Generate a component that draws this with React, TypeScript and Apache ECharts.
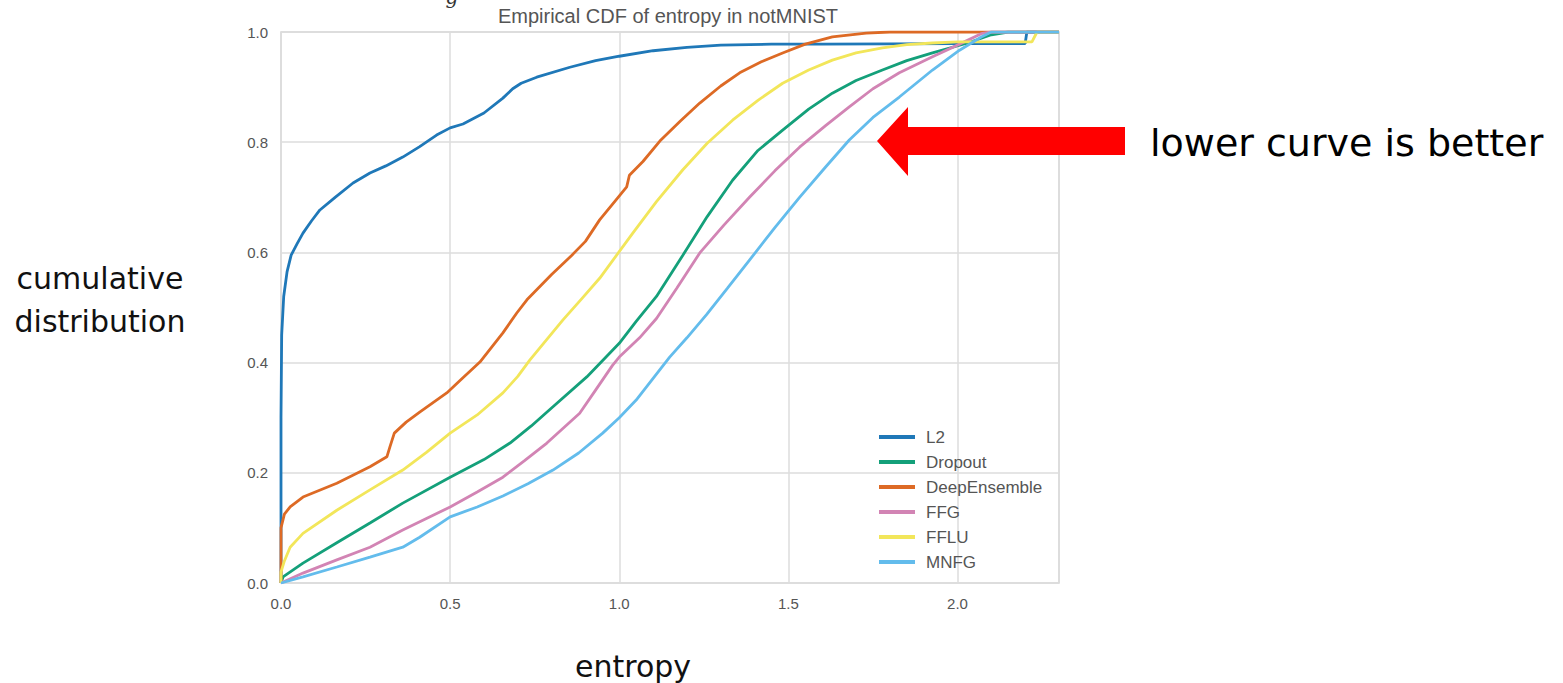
import React, { useEffect, useRef } from "react";
import * as echarts from "echarts";

const seriesNames = ["L2", "Dropout", "DeepEnsemble", "FFG", "FFLU", "MNFG"];
const seriesColors = ["#1f78b8", "#14a07a", "#dd6a25", "#d284b4", "#f2e65a", "#63bcec"];

const L2 = [[0,0],[0,0.30],[0.002,0.45],[0.008,0.52],[0.018,0.565],[0.03,0.595],[0.047,0.615],[0.065,0.635],[0.09,0.657],[0.115,0.677],[0.16,0.700],[0.213,0.726],[0.263,0.744],[0.31,0.757],[0.36,0.773],[0.41,0.792],[0.46,0.813],[0.5,0.826],[0.538,0.833],[0.6,0.853],[0.656,0.880],[0.685,0.897],[0.71,0.907],[0.756,0.918],[0.854,0.936],[0.93,0.948],[1.0,0.956],[1.1,0.966],[1.2,0.972],[1.3,0.976],[1.45,0.978],[1.6,0.978],[2.0,0.979],[2.2,0.979],[2.205,1.0],[2.3,1.0]];
const Dropout = [[0,0],[0.006,0.011],[0.065,0.036],[0.165,0.073],[0.263,0.109],[0.36,0.145],[0.5,0.192],[0.6,0.224],[0.677,0.254],[0.74,0.285],[0.804,0.32],[0.904,0.374],[1.0,0.435],[1.05,0.475],[1.11,0.52],[1.188,0.595],[1.26,0.665],[1.335,0.731],[1.41,0.785],[1.483,0.822],[1.56,0.860],[1.63,0.889],[1.70,0.912],[1.778,0.931],[1.85,0.948],[1.926,0.962],[2.03,0.98],[2.1,0.995],[2.15,1.0],[2.3,1.0]];
const DeepEnsemble = [[0,0],[0,0.10],[0.01,0.125],[0.027,0.138],[0.065,0.156],[0.165,0.181],[0.263,0.211],[0.313,0.229],[0.322,0.247],[0.335,0.272],[0.37,0.292],[0.41,0.31],[0.49,0.345],[0.53,0.368],[0.588,0.401],[0.656,0.454],[0.697,0.49],[0.727,0.514],[0.8,0.56],[0.86,0.595],[0.9,0.62],[0.942,0.659],[0.99,0.695],[1.022,0.719],[1.03,0.74],[1.07,0.765],[1.12,0.802],[1.18,0.838],[1.238,0.871],[1.30,0.902],[1.356,0.926],[1.42,0.946],[1.483,0.962],[1.55,0.978],[1.63,0.991],[1.73,0.998],[1.8,1.0],[2.3,1.0]];
const FFG = [[0,0],[0.065,0.018],[0.165,0.042],[0.263,0.065],[0.36,0.096],[0.5,0.138],[0.58,0.165],[0.656,0.192],[0.72,0.222],[0.786,0.254],[0.883,0.308],[0.93,0.35],[0.98,0.395],[1.0,0.41],[1.06,0.445],[1.11,0.48],[1.17,0.535],[1.238,0.599],[1.31,0.65],[1.385,0.7],[1.46,0.748],[1.533,0.791],[1.61,0.83],[1.68,0.864],[1.75,0.897],[1.828,0.926],[1.926,0.955],[2.006,0.978],[2.07,0.997],[2.1,1.0],[2.3,1.0]];
const FFLU = [[0,0],[0,0.02],[0.01,0.04],[0.027,0.065],[0.065,0.09],[0.165,0.132],[0.263,0.169],[0.36,0.205],[0.43,0.237],[0.5,0.272],[0.58,0.305],[0.656,0.345],[0.70,0.375],[0.736,0.405],[0.833,0.477],[0.892,0.518],[0.942,0.553],[1.04,0.635],[1.11,0.692],[1.188,0.75],[1.26,0.798],[1.335,0.84],[1.41,0.876],[1.483,0.907],[1.56,0.931],[1.63,0.949],[1.70,0.962],[1.778,0.971],[1.85,0.977],[1.926,0.98],[2.0,0.982],[2.22,0.982],[2.235,1.0],[2.3,1.0]];
const MNFG = [[0,0],[0.065,0.011],[0.165,0.029],[0.263,0.047],[0.36,0.065],[0.41,0.083],[0.5,0.12],[0.58,0.138],[0.656,0.158],[0.73,0.18],[0.804,0.205],[0.88,0.236],[0.951,0.272],[1.0,0.30],[1.05,0.332],[1.149,0.41],[1.2,0.445],[1.258,0.487],[1.32,0.535],[1.385,0.586],[1.46,0.645],[1.533,0.7],[1.61,0.755],[1.68,0.804],[1.75,0.845],[1.828,0.882],[1.926,0.931],[2.006,0.967],[2.07,0.991],[2.1,1.0],[2.3,1.0]];

const seriesData = [L2, Dropout, DeepEnsemble, FFG, FFLU, MNFG];

const chartTitle = "Empirical CDF of entropy in notMNIST";
const yAxisTitle = ["cumulative", "distribution"];
const xAxisTitle = "entropy";
const annotation = "lower curve is better";

export default function App() {
  const ref = useRef<HTMLDivElement>(null);
  useEffect(() => {
    if (!ref.current) return;
    const chart = echarts.init(ref.current, null, { renderer: "svg" });
    const sideFont = "'DejaVu Sans', 'Open Sans', sans-serif";
    const plotFont = "'Liberation Sans', Arial, sans-serif";
    chart.setOption({
      animation: false,
      backgroundColor: "#ffffff",
      grid: {
        left: 281, top: 32, width: 778, height: 551,
        show: true, borderColor: "#d4d4d4", borderWidth: 1.5, backgroundColor: "transparent",
      },
      xAxis: {
        type: "value", min: 0, max: 2.3, interval: 0.5,
        axisLine: { show: false },
        axisTick: { show: false },
        splitLine: { show: true, lineStyle: { color: "#dcdcdc", width: 1.5 } },
        axisLabel: {
          showMaxLabel: false, color: "#555", fontSize: 15, margin: 13,
          fontFamily: plotFont,
          formatter: (v: number) => v.toFixed(1),
        },
      },
      yAxis: {
        type: "value", min: 0, max: 1, interval: 0.2,
        axisLine: { show: false },
        axisTick: { show: false },
        splitLine: { show: true, lineStyle: { color: "#dcdcdc", width: 1.5 } },
        axisLabel: {
          color: "#555", fontSize: 15, margin: 13,
          fontFamily: plotFont,
          formatter: (v: number) => v.toFixed(1),
        },
      },
      legend: {
        orient: "vertical", left: 874, top: 423,
        icon: "rect", itemWidth: 36, itemHeight: 4, itemGap: 7,
        data: seriesNames,
        textStyle: { color: "#555", fontSize: 17, lineHeight: 18, fontFamily: plotFont, padding: [0, 0, 0, 6] },
      },
      series: seriesNames.map((name, i) => ({
        name, type: "line", data: seriesData[i], showSymbol: false, symbol: "none",
        lineStyle: { color: seriesColors[i], width: 2.8 },
        itemStyle: { color: seriesColors[i] },
        z: 2 + i,
      })),
      graphic: [
        {
          type: "text", x: 668, y: 16,
          style: { text: chartTitle, fill: "#555", fontSize: 20, fontFamily: plotFont, textAlign: "center", textVerticalAlign: "middle" },
        },
        {
          type: "text", x: 452, y: -3,
          style: { text: "g", fill: "#333", fontSize: 20, fontStyle: "italic", fontFamily: "'DejaVu Serif', serif", textAlign: "center", textVerticalAlign: "middle" },
        },
        {
          type: "text", x: 100, y: 278,
          style: { text: yAxisTitle[0], fill: "#111", fontSize: 30, fontFamily: sideFont, textAlign: "center", textVerticalAlign: "middle" },
        },
        {
          type: "text", x: 100, y: 321,
          style: { text: yAxisTitle[1], fill: "#111", fontSize: 30, fontFamily: sideFont, textAlign: "center", textVerticalAlign: "middle" },
        },
        {
          type: "text", x: 633, y: 666,
          style: { text: xAxisTitle, fill: "#111", fontSize: 30, fontFamily: sideFont, textAlign: "center", textVerticalAlign: "middle" },
        },
        {
          type: "text", x: 1150, y: 143,
          style: { text: annotation, fill: "#000", fontSize: 38, fontFamily: sideFont, textAlign: "left", textVerticalAlign: "middle" },
        },
        {
          type: "polygon",
          shape: { points: [[877, 141], [908, 107], [908, 127], [1125, 127], [1125, 155], [908, 155], [908, 176]] },
          style: { fill: "#ff0000" },
          z: 100,
        },
      ],
    });
    return () => chart.dispose();
  }, []);
  return <div ref={ref} style={{ position: "fixed", left: 0, top: 0, width: 1563, height: 683 }} />;
}
